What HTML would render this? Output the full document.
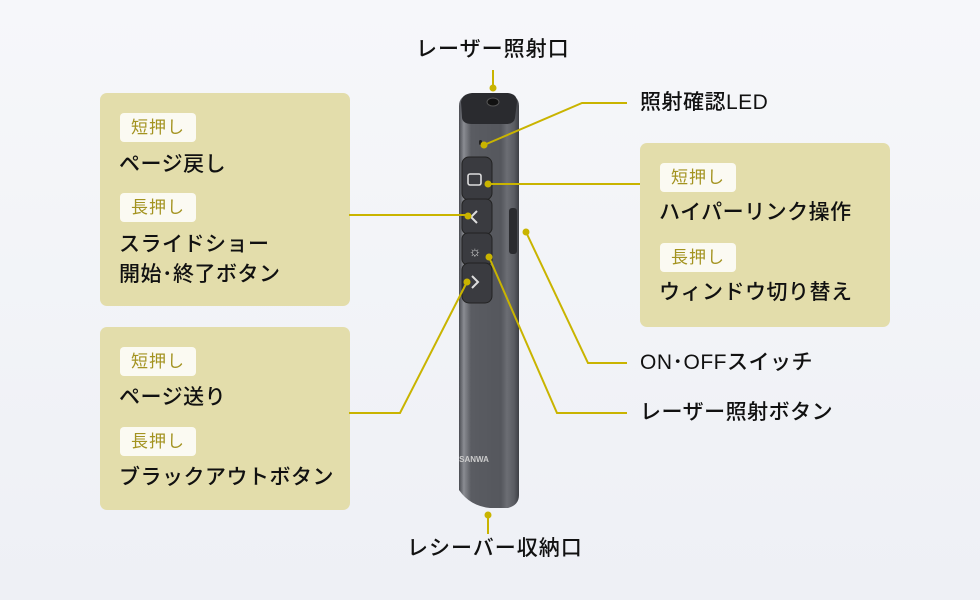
<!DOCTYPE html>
<html><head><meta charset="utf-8"><style>
html,body{margin:0;padding:0}
body{width:980px;height:600px;position:relative;overflow:hidden;background:linear-gradient(180deg,#f6f7fa,#eef0f5);font-family:"Liberation Sans","Noto Sans CJK JP",sans-serif;color:#111;}
.box{position:absolute;background:#e3ddab;border-radius:7px;}
.badge{position:absolute;background:#fbfaf2;border-radius:4px;color:#a39320;font-size:17px;line-height:29px;width:76px;text-align:center;letter-spacing:1px}
.t{position:absolute;font-size:21px;font-weight:500;white-space:nowrap;line-height:28px;letter-spacing:0.5px}
svg{position:absolute;left:0;top:0}
</style></head><body>
<div class="box" style="left:100px;top:93px;width:250px;height:213px"></div>
<div class="box" style="left:100px;top:327px;width:250px;height:183px"></div>
<div class="box" style="left:640px;top:143px;width:250px;height:184px"></div>

<svg width="980" height="600">
<defs>
<linearGradient id="body" x1="0" x2="1">
<stop offset="0" stop-color="#4a4c52"/><stop offset="0.08" stop-color="#8a8c92"/><stop offset="0.2" stop-color="#5a5c62"/><stop offset="0.7" stop-color="#55575d"/><stop offset="0.8" stop-color="#6c6e74"/><stop offset="0.92" stop-color="#5a5c62"/><stop offset="1" stop-color="#3d3f44"/>
</linearGradient>
</defs>
<path d="M459 106 Q459 96 470 94 L508 94 Q519 96 519 106 L519 495 Q519 505 508 508 L490 508 Q470 506 459 490 Z" fill="url(#body)"/>
<path d="M461 102 Q462 94 472 93 L508 93 Q517 94 517 102 L515 118 Q514 124 506 124 L472 124 Q463 124 462 118 Z" fill="#2a2b2f"/>
<ellipse cx="493" cy="102" rx="6" ry="4" fill="#111" stroke="#555" stroke-width="1"/>
<rect x="479" y="140" width="3" height="5" rx="1.5" fill="#222"/>
<rect x="462" y="157" width="30" height="43" rx="7" fill="#3a3b40" stroke="#222" stroke-width="1"/>
<rect x="468" y="174" width="13" height="11" rx="2" fill="none" stroke="#ddd" stroke-width="1.6"/>
<rect x="462" y="199" width="30" height="35" rx="6" fill="#3a3b40" stroke="#222"/>
<path d="M477 211 L471 217 L477 223" fill="none" stroke="#ddd" stroke-width="2"/>
<rect x="462" y="233" width="30" height="32" rx="6" fill="#3a3b40" stroke="#222"/>
<text x="475" y="256" font-size="14" fill="#ddd" text-anchor="middle">☼</text>
<rect x="462" y="263" width="30" height="40" rx="7" fill="#3a3b40" stroke="#222"/>
<path d="M472 276 L478 282 L472 288" fill="none" stroke="#ddd" stroke-width="2"/>
<rect x="509" y="208" width="8" height="46" rx="3" fill="#2a2b2f"/>
<text x="474" y="462" font-size="8" fill="#ccc" text-anchor="middle" font-weight="bold">SANWA</text>
<g stroke="#c9b400" stroke-width="2" fill="none">
<line x1="493" y1="70" x2="493" y2="88"/>
<polyline points="484,145 582,103 627,103"/>
<line x1="488" y1="184" x2="640" y2="184"/>
<line x1="349" y1="215" x2="468" y2="215"/>
<polyline points="526,232 588,363 627,363"/>
<polyline points="489,257 557,413 627,413"/>
<polyline points="467,282 400,413 349,413"/>
<line x1="488" y1="515" x2="488" y2="534"/>
</g>
<g fill="#c9b400">
<circle cx="493" cy="88" r="3.5"/><circle cx="484" cy="145" r="3.5"/><circle cx="488" cy="184" r="3.5"/>
<circle cx="468" cy="216" r="3.5"/><circle cx="526" cy="232" r="3.5"/><circle cx="489" cy="257" r="3.5"/>
<circle cx="467" cy="282" r="3.5"/><circle cx="488" cy="515" r="3.5"/>
</g>
</svg>

<div class="badge" style="left:120px;top:113px">短押し</div>
<div class="t" style="left:119px;top:151px">ページ戻し</div>
<div class="badge" style="left:120px;top:193px">長押し</div>
<div class="t" style="left:119px;top:231px">スライドショー</div>
<div class="t" style="left:119px;top:261px">開始･終了ボタン</div>

<div class="badge" style="left:120px;top:347px">短押し</div>
<div class="t" style="left:119px;top:384px">ページ送り</div>
<div class="badge" style="left:120px;top:427px">長押し</div>
<div class="t" style="left:119px;top:464px">ブラックアウトボタン</div>

<div class="badge" style="left:660px;top:163px">短押し</div>
<div class="t" style="left:659px;top:199px">ハイパーリンク操作</div>
<div class="badge" style="left:660px;top:243px">長押し</div>
<div class="t" style="left:659px;top:279px">ウィンドウ切り替え</div>

<div class="t" style="left:416px;top:36px;letter-spacing:1px">レーザー照射口</div>
<div class="t" style="left:640px;top:89px">照射確認LED</div>
<div class="t" style="left:640px;top:349px">ON･OFFスイッチ</div>
<div class="t" style="left:640px;top:399px">レーザー照射ボタン</div>
<div class="t" style="left:407px;top:535px;letter-spacing:1px">レシーバー収納口</div>
</body></html>
